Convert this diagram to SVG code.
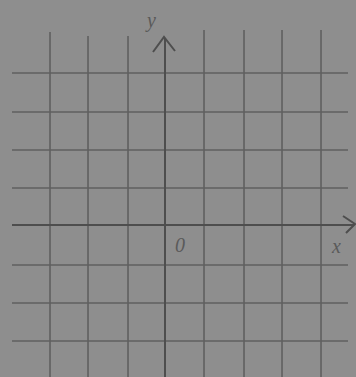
<svg xmlns="http://www.w3.org/2000/svg" width="356" height="377" viewBox="0 0 356 377">
<style>
.g{stroke:#606060;stroke-width:1.6;fill:none}
.a{stroke:#4e4e4e;stroke-width:2;fill:none}
.t{font-family:"Liberation Serif",serif;font-style:italic;fill:#5a5a5a;font-size:20px}
</style>
<rect width="356" height="377" fill="#8e8e8e"/>
<g id="grid">
<path class="g" d="M12 73H348M12 112H348M12 150H348M12 188H348M12 265H348M12 303H348M12 341H348"/>
<path class="g" d="M50 32V377M88 36V377M128 36V377M204 30V377M244 30V377M282 30V377M321 30V377"/>
</g>
<g id="axes">
<path class="a" d="M12 225H354M343 216L355 224L346 233"/>
<path class="a" d="M165 377V38M153 52L164 37L175 51"/>
</g>
<g id="labels">
<text class="t" x="147" y="27">y</text>
<text class="t" x="175" y="252" font-style="normal">0</text>
<text class="t" x="332" y="253">x</text>
</g>
</svg>
